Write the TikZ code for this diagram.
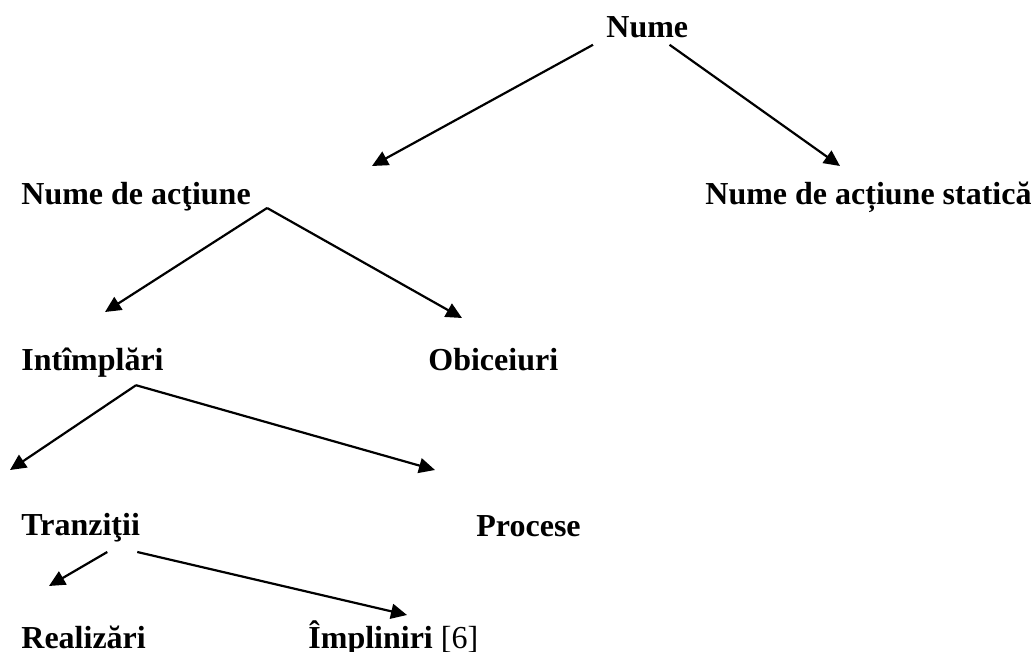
\documentclass[tikz,border=0pt]{standalone}
\usepackage{fontspec}
\setmainfont{Liberation Serif}
\usepackage{tikz}
\usetikzlibrary{arrows.meta,positioning}

\begin{document}
\begin{tikzpicture}[
  x=0.5pt, y=-0.5pt,
  mylabel/.style={
    anchor=base west,
    inner sep=0pt,
    font=\fontsize{16}{19}\selectfont\bfseries
    },
  myarrow/.style={
    line width=1.1pt,
    -{Triangle[length=8pt,width=7.5pt]}
    }
]
\useasboundingbox (0,0) rectangle (1035,652);

\node[mylabel] (nume)    at (606,38)  {Nume};
\node[mylabel] (actiune) at (21,205)  {Nume de acţiune};
\node[mylabel] (statica) at (705,205) {Nume de acțiune statică};
\node[mylabel] (intimpl) at (21,371)  {Intîmplări};
\node[mylabel] (obic)    at (428,371) {Obiceiuri};
\node[mylabel] (tranz)   at (21,536)  {Tranziţii};
\node[mylabel] (proc)    at (476,537) {Procese};
\node[mylabel] (realiz)  at (21,648)  {Realizări};
\node[mylabel] (implin)  at (308,648) {Împliniri {\mdseries [6]}};

\coordinate (t1) at (372,166);
\coordinate (t2) at (840,166);
\coordinate (t3) at (105,312);
\coordinate (t4) at (462,318);
\coordinate (t5) at (10,470);
\coordinate (t6) at (435,470);
\coordinate (t7) at (49,586);
\coordinate (t8) at (407,615);

\draw[myarrow] ([shift={(-13,6)}]nume.south west) -- (t1);
\draw[myarrow] ([shift={(-19,6)}]nume.south east) -- (t2);
\draw[myarrow] ([shift={(16,-4)}]actiune.south east) -- (t3);
\draw[myarrow] ([shift={(16,-4)}]actiune.south east) -- (t4);
\draw[myarrow] ([shift={(-28,7)}]intimpl.south east) -- (t5);
\draw[myarrow] ([shift={(-28,7)}]intimpl.south east) -- (t6);
\draw[myarrow] ([shift={(-33,9)}]tranz.south east) -- (t7);
\draw[myarrow] ([shift={(-3,9)}]tranz.south east) -- (t8);

\end{tikzpicture}
\end{document}
